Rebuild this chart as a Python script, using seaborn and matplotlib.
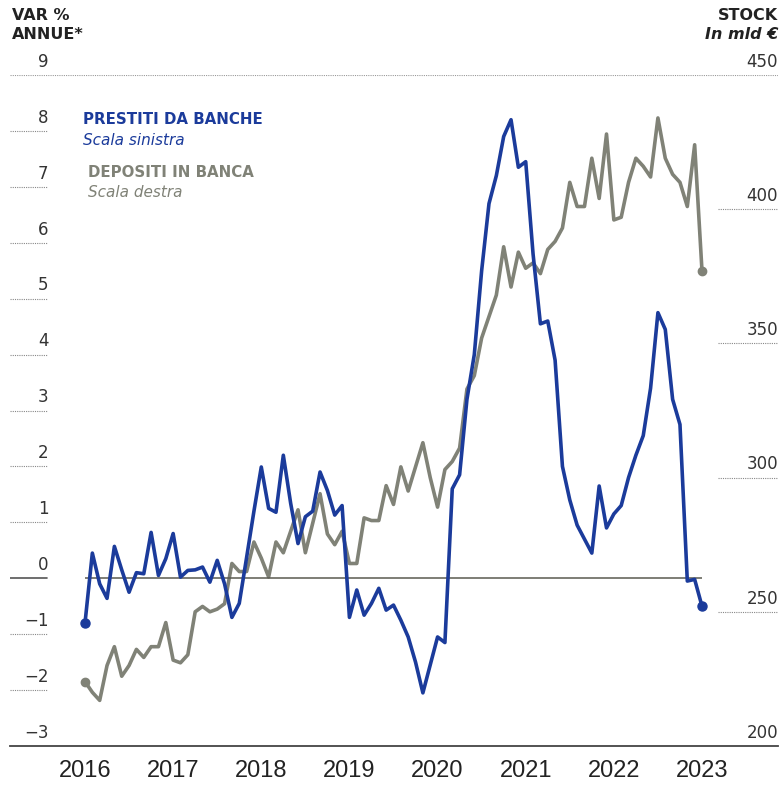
import matplotlib
matplotlib.use("Agg")
import matplotlib.pyplot as plt
import pandas as pd
import numpy as np
import seaborn as sns

# Monthly data, Jan 2016 - Jan 2023
prestiti = [-0.8, 0.45, -0.1, -0.36, 0.57, 0.15, -0.25, 0.1, 0.08, 0.82,
            0.05, 0.35, 0.8, 0.02, 0.14, 0.15, 0.2, -0.07, 0.32, -0.1,
            -0.7, -0.45, 0.37, 1.2, 1.99, 1.25, 1.18, 2.2, 1.34, 0.62,
            1.1, 1.2, 1.9, 1.57, 1.13, 1.3, -0.7, -0.21, -0.66, -0.45,
            -0.18, -0.57, -0.48, -0.75, -1.05, -1.5, -2.05, -1.55, -1.05, -1.15,
            1.6, 1.85, 3.2, 4.0, 5.5, 6.7, 7.2, 7.9, 8.2, 7.35,
            7.45, 5.8, 4.55, 4.6, 3.9, 2.0, 1.4, 0.95, 0.7, 0.45,
            1.65, 0.9, 1.15, 1.3, 1.8, 2.2, 2.55, 3.4, 4.75, 4.45,
            3.2, 2.75, -0.05, -0.02, -0.5]
depositi = [224, 220, 217, 230, 237, 226, 230, 236, 233, 237,
            237, 246, 232, 231, 234, 250, 252, 250, 251, 253,
            268, 265, 265, 276, 270, 263, 276, 272, 280, 288,
            272, 283, 294, 279, 275, 280, 268, 268, 285, 284,
            284, 297, 290, 304, 295, 304, 313, 300, 289, 303,
            306, 311, 333, 338, 352, 360, 368, 386, 371, 384,
            378, 380, 376, 385, 388, 393, 410, 401, 401, 419,
            404, 428, 396, 397, 410, 419, 416, 412, 434, 419,
            413, 410, 401, 424, 377]
left_ticks = [-3, -2, -1, 0, 1, 2, 3, 4, 5, 6, 7, 8, 9]
right_ticks = [200, 250, 300, 350, 400, 450]
years = [2016, 2017, 2018, 2019, 2020, 2021, 2022, 2023]

dates = pd.date_range("2016-01-01", periods=len(prestiti), freq="MS")
df = pd.DataFrame({
    "t": dates.year + (dates.month - 1) / 12,
    "prestiti": prestiti,
    "depositi": depositi,
})

blue = "#1b3b9b"
grey = "#808277"
txt = "#333333"

sns.set_style("white")
plt.rcParams["font.family"] = ["DejaVu Sans"]

fig = plt.figure(figsize=(7.81, 7.89), dpi=100)
ax = fig.add_axes([10 / 781, 43 / 789, 768 / 781, 671 / 789])
ax2 = ax.twinx()

# x range so that 2016 -> px 85 and 2023 -> px 702
ppy = 617 / 7
ax.set_xlim(2016 - 75 / ppy, 2016 + 693 / ppy)
ax.set_ylim(-3, 9)
ax2.set_ylim(200, 450)

for a in (ax, ax2):
    for s in a.spines.values():
        s.set_visible(False)
    a.set_yticks([])
ax.spines["bottom"].set_visible(True)
ax.spines["bottom"].set_color("#444444")
ax.spines["bottom"].set_linewidth(1.3)

# gridline stubs + labels
for v in left_ticks[1:-1]:
    if v == 0:
        continue
    ax.axhline(v, 0, 0.048, color="#888888", lw=0.8, ls=(0, (1, 1)))
ax.axhline(0, 0, 0.048, color="#555555", lw=1.2)
ax.hlines(0, years[0], years[-1], color="#5a5a50", lw=1.1, zorder=1)
ax.axhline(9, 0, 1, color="#999999", lw=0.8, ls=(0, (1, 1)))
for v in left_ticks:
    ax.annotate(f"{v}".replace("-", "\u2212"), xy=(0.05, v), xycoords=("axes fraction", "data"),
                xytext=(0, 3), textcoords="offset points", ha="right", va="bottom",
                fontsize=12, color=txt)
for v in right_ticks[1:-1]:
    ax2.axhline(v, 0.922, 1, color="#888888", lw=0.8, ls=(0, (1, 1)))
for v in right_ticks:
    ax2.annotate(f"{v}", xy=(1, v), xycoords=("axes fraction", "data"),
                 xytext=(0, 3), textcoords="offset points", ha="right", va="bottom",
                 fontsize=12, color=txt)

# lines
sns.lineplot(data=df, x="t", y="depositi", ax=ax2, color=grey, lw=2.6, zorder=3)
ax2.plot(df["t"].iloc[[0, -1]], df["depositi"].iloc[[0, -1]], "o", color=grey, ms=6)
sns.lineplot(data=df, x="t", y="prestiti", ax=ax, color=blue, lw=2.6, zorder=4)
ax.plot(df["t"].iloc[[0, -1]], df["prestiti"].iloc[[0, -1]], "o", color=blue, ms=6.5)
ax.set_zorder(ax2.get_zorder() + 1)
ax.patch.set_visible(False)
ax.set_xlabel("")
ax.set_ylabel("")
ax2.set_ylabel("")

# x axis
ax.set_xticks(years)
ax.set_xticklabels([str(y) for y in years], fontsize=17, color="#222222",
                   family=["Liberation Sans", "DejaVu Sans"])
ax.tick_params(axis="x", direction="in", length=6, width=1, color="#444444", pad=10)
for tk in ax.xaxis.get_major_ticks()[1:-1]:
    tk.tick1line.set_visible(False)
ax2.tick_params(axis="x", length=0)

# headers
fig.text(12 / 781, 1 - 8 / 789, "VAR %", ha="left", va="top", fontsize=11.5,
         fontweight="bold", color="#222222")
fig.text(12 / 781, 1 - 27 / 789, "ANNUE*", ha="left", va="top", fontsize=11.5,
         fontweight="bold", color="#222222")
fig.text(778 / 781, 1 - 8 / 789, "STOCK", ha="right", va="top", fontsize=11.5,
         fontweight="bold", color="#222222")
fig.text(778 / 781, 1 - 27 / 789, "In mld \u20ac", ha="right", va="top", fontsize=11.5,
         fontweight="bold", style="italic", color="#222222")

# legend labels
fig.text(83 / 781, 1 - 112 / 789, "PRESTITI DA BANCHE", ha="left", va="top", fontsize=10.8,
         fontweight="bold", color=blue)
fig.text(83 / 781, 1 - 133 / 789, "Scala sinistra", ha="left", va="top", fontsize=11,
         style="italic", color=blue)
fig.text(88 / 781, 1 - 165 / 789, "DEPOSITI IN BANCA", ha="left", va="top", fontsize=10.8,
         fontweight="bold", color=grey)
fig.text(88 / 781, 1 - 185 / 789, "Scala destra", ha="left", va="top", fontsize=11,
         style="italic", color=grey)

fig.savefig("out.png", dpi=100)
